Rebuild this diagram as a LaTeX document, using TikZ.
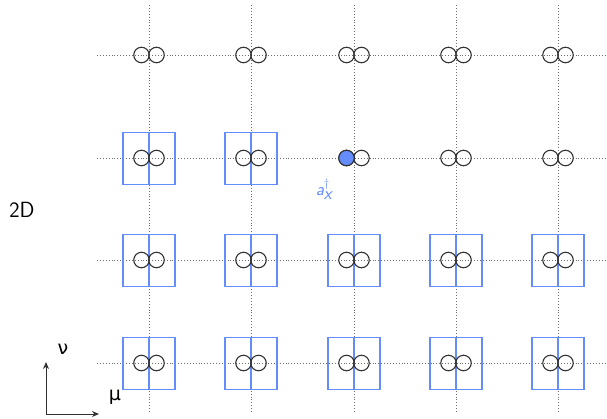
\documentclass[tikz,border=0pt]{standalone}
\usepackage{fontspec}
\newfontfamily\grfont{DejaVu Sans}
\usetikzlibrary{arrows.meta}
\definecolor{boxblue}{RGB}{100,140,250}
\definecolor{dotgray}{RGB}{110,110,110}
\tikzset{
  gridline/.style={dotgray, dotted, line width=0.9pt},
  site/.style={circle, draw=black!80, line width=1.1pt, minimum size=15.5pt, inner sep=0pt},
  filledsite/.style={site, fill=boxblue},
  linkbox/.style={draw=boxblue, line width=1.4pt, minimum size=52pt, inner sep=0pt},
  axis/.style={draw=black!80, line width=1pt, -{Stealth[length=7pt,width=6pt]}}
}
\begin{document}
\begin{tikzpicture}[x=1pt,y=-1pt]
\useasboundingbox (0,0) rectangle (607,418);
% grid lines
\foreach \cx [count=\i] in {149,251,354,456,558} {
  \coordinate (vt\i) at (\cx,5);
  \coordinate (vb\i) at (\cx,413);
  \draw[gridline] (vt\i) -- (vb\i);
}
\foreach \ry [count=\j] in {55,158,260,363} {
  \coordinate (hl\j) at (97,\ry);
  \coordinate (hr\j) at (607,\ry);
  \draw[gridline] (hl\j) -- (hr\j);
}
% boxes
\foreach \cx/\ry [count=\k] in {149/158,251/158,
  149/260,251/260,354/260,456/260,558/260,
  149/363,251/363,354/363,456/363,558/363} {
  \node[linkbox] (box\k) at (\cx,\ry+0.5) {};
  \draw[boxblue, line width=1.6pt] (box\k.north) -- (box\k.south);
}
% sites
\foreach \cx [count=\i] in {149,251,354,456,558} {
  \foreach \ry [count=\j] in {55,158,260,363} {
    \node[site] (L\i\j) at (\cx-7.5,\ry) {};
    \node[site] (R\i\j) at (\cx+7.5,\ry) {};
  }
}
\node[filledsite] at (L32) {};
\node[text=boxblue, font=\sffamily\fontsize{18}{20}\selectfont] (adag) at (324,189) {\itshape a$^{\dagger}_{\textsf{\itshape x}}$};
% label
\node[font=\sffamily\fontsize{22}{24}\selectfont] (twod) at (22,210) {2D};
% axes
\coordinate (o) at (46,414);
\coordinate (ytip) at (46,362);
\coordinate (xtip) at (99,414);
\draw[axis] (o) -- (ytip);
\draw[axis] (o) -- (xtip);
\node[font=\grfont\fontsize{19}{21}\selectfont] (nu) at (63,349) {ν};
\node[font=\grfont\fontsize{19}{21}\selectfont] (mu) at (115,397) {μ};
\end{tikzpicture}
\end{document}
